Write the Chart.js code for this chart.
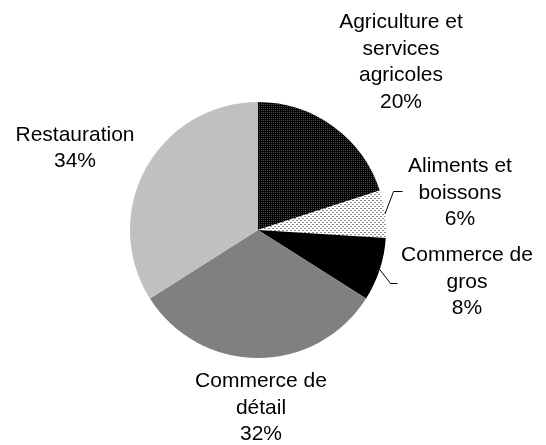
<!DOCTYPE html>
<html>
<head>
<meta charset="utf-8">
<script src="https://cdn.jsdelivr.net/npm/chart.js@4/dist/chart.umd.min.js"></script>
<style>
    html, body { margin: 0; padding: 0; background: #fff; }
    #wrap { width: 546px; height: 445px; position: relative; }
</style>
</head>
<body>
<div id="wrap"><canvas id="pie"></canvas></div>
<script>
const categories = [
    ['Agriculture et', 'services', 'agricoles'],
    ['Aliments et', 'boissons'],
    ['Commerce de', 'gros'],
    ['Commerce de', 'détail'],
    ['Restauration']
];
const shares = [20, 6, 8, 32, 34];

// label block centres and leader lines, as offsets from the pie centre
const labelLayout = [
    { dx: 143, dy: -168 },
    { dx: 202, dy: -37, leader: [[135, -39], [144, -39]] },
    { dx: 209, dy: 52, leader: [[132, 53], [139, 53]] },
    { dx: 3, dy: 178 },
    { dx: -183, dy: -82 }
];

function makePattern(bg, fg, dots) {
    const c = document.createElement('canvas');
    c.width = 4;
    c.height = 4;
    const g = c.getContext('2d');
    g.fillStyle = bg;
    g.fillRect(0, 0, 4, 4);
    g.fillStyle = fg;
    dots.forEach(([x, y]) => g.fillRect(x, y, 1, 1));
    return g.createPattern(c, 'repeat');
}

const ctx = document.getElementById('pie').getContext('2d');

const fills = [
    makePattern('#000', '#4a4a4a', [[1, 0], [3, 0], [1, 2], [3, 2]]),
    makePattern('#fff', '#8c8c8c', [[0, 0], [1, 0], [2, 2], [3, 2]]),
    '#000000',
    '#808080',
    '#c0c0c0'
];

const pieLabels = {
    id: 'pieLabels',
    afterDraw(chart) {
        const g = chart.ctx;
        const arcs = chart.getDatasetMeta(0).data;
        g.save();
        g.font = '21px "Liberation Sans", Arial, sans-serif';
        g.fillStyle = '#000';
        g.textAlign = 'center';
        g.textBaseline = 'middle';
        g.strokeStyle = '#000';
        g.lineWidth = 1;
        arcs.forEach((arc, i) => {
            const cx = arc.x, cy = arc.y;
            const lay = labelLayout[i];
            const lines = [...categories[i], shares[i] + '%'];
            const lh = 26.5;
            const top = cy + lay.dy - (lines.length - 1) * lh / 2;
            lines.forEach((t, k) => g.fillText(t, cx + lay.dx, top + k * lh));
            if (lay.leader) {
                const mid = (arc.startAngle + arc.endAngle) / 2;
                g.beginPath();
                g.moveTo(cx + Math.cos(mid) * arc.outerRadius, cy + Math.sin(mid) * arc.outerRadius);
                lay.leader.forEach(([x, y]) => g.lineTo(cx + x + 0.5, cy + y + 0.5));
                g.stroke();
            }
        });
        g.restore();
    }
};

new Chart(ctx, {
    type: 'pie',
    data: {
        labels: categories,
        datasets: [{
            data: shares,
            backgroundColor: fills,
            borderWidth: 0
        }]
    },
    options: {
        responsive: true,
        maintainAspectRatio: false,
        animation: false,
        layout: {
            padding: { left: 130, right: 160, top: 102, bottom: 87 }
        },
        plugins: {
            legend: { display: false },
            tooltip: { enabled: false }
        }
    },
    plugins: [pieLabels]
});
</script>
</body>
</html>
